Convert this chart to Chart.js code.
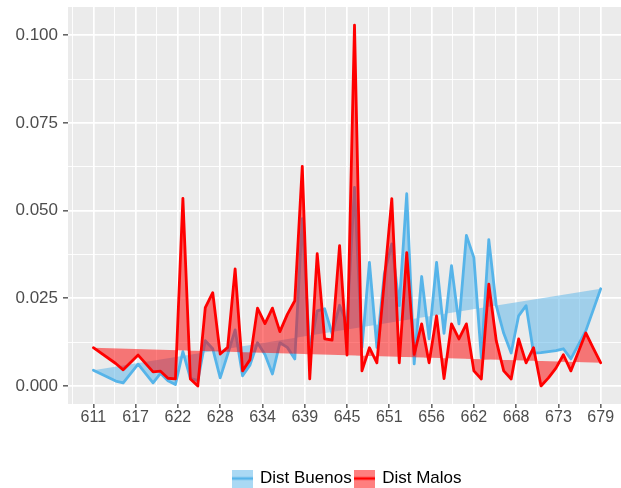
<!DOCTYPE html>
<html>
<head>
<meta charset="utf-8">
<script src="https://cdn.jsdelivr.net/npm/chart.js@4.4.1/dist/chart.umd.min.js"></script>
<style>
html,body{margin:0;padding:0;background:#ffffff;}
#wrap{width:621px;height:488px;position:relative;}
</style>
</head>
<body>
<div id="wrap"><canvas id="c" width="621" height="488"></canvas></div>
<script>
// ---- data ----
const xValues = [611,614,615,617,619,620,621,622,623,624,625,626,627,628,629,630,631,632,633,634,635,636,637,638,639,640,641,642,643,644,645,646,647,648,649,650,651,652,653,654,655,656,657,658,659,660,661,662,663,664,665,666,667,668,669,670,671,672,673,674,675,676,677,678,679];

const distBuenos = [0.0045,0.0014,0.0009,0.0062,0.0009,0.0036,0.0015,0.0004,0.0098,0.0022,0.0015,0.0129,0.0106,0.0023,0.0090,0.0160,0.0029,0.0060,0.0123,0.0090,0.0034,0.0123,0.0110,0.0077,0.0477,0.0100,0.0214,0.0220,0.0149,0.0230,0.0177,0.0566,0.0110,0.0352,0.0110,0.0320,0.0405,0.0229,0.0548,0.0063,0.0312,0.0134,0.0352,0.0150,0.0343,0.0177,0.0429,0.0366,0.0080,0.0417,0.0229,0.0150,0.0094,0.0200,0.0229,0.0094,0.0095,0.0098,0.0101,0.0106,0.0077,0.0117,0.0157,0.0217,0.0277];

const distMalos = [0.0109,0.0064,0.0046,0.0088,0.0040,0.0042,0.0022,0.0020,0.0535,0.0020,0.0000,0.0223,0.0266,0.0091,0.0110,0.0334,0.0043,0.0075,0.0222,0.0178,0.0222,0.0155,0.0204,0.0243,0.0626,0.0020,0.0377,0.0134,0.0131,0.0400,0.0088,0.1029,0.0043,0.0109,0.0066,0.0300,0.0534,0.0066,0.0380,0.0090,0.0177,0.0066,0.0200,0.0021,0.0177,0.0134,0.0177,0.0043,0.0020,0.0290,0.0129,0.0043,0.0020,0.0134,0.0066,0.0109,0.0000,0.0023,0.0051,0.0089,0.0043,0.0097,0.0151,0.0108,0.0066];

const xTickValues = [611,616.6667,622.3333,628,633.6667,639.3333,645,650.6667,656.3333,662,667.6667,673.3333,679];
const xTickLabels = ['611','617','622','628','634','639','645','651','656','662','668','673','679'];
const yTickValues = [0,0.025,0.05,0.075,0.1];
const yTickLabels = ['0.000','0.025','0.050','0.075','0.100'];

const seriesNames = ['Dist Buenos','Dist Malos'];
const lineColors = ['#56B4E9','#FF0000'];
const fillColors = ['rgba(86,180,233,0.5)','rgba(255,0,0,0.5)'];

// ---- helpers ----
function withMinor(vals, labels, min, max){
  const out = vals.map((v,i)=>({value:v, lbl:labels[i], minor:false}));
  const step = vals[1]-vals[0];
  for (let i=-1;i<vals.length;i++){
    const a = i<0 ? vals[0]-step : vals[i];
    const b = i+1<vals.length ? vals[i+1] : vals[i]+step;
    const m = (a+b)/2;
    if (m>=min && m<=max) out.push({value:m, lbl:'', minor:true});
  }
  out.sort((p,q)=>p.value-q.value);
  return out;
}

function makeKey(line, fill){
  const c = document.createElement('canvas');
  c.width = 21; c.height = 18;
  const g = c.getContext('2d');
  g.fillStyle = fill; g.fillRect(0,0,21,18);
  g.strokeStyle = line; g.lineWidth = 2.6;
  g.beginPath(); g.moveTo(0,9); g.lineTo(21,9); g.stroke();
  return c;
}

const X_MIN = 607.6, X_MAX = 681.72;
const Y_MIN = -0.005145, Y_MAX = 0.108045;

const panelBg = {
  id:'panelBg',
  beforeDraw(chart){
    const {ctx, chartArea:a} = chart;
    ctx.save(); ctx.fillStyle = '#EBEBEB';
    ctx.fillRect(a.left, a.top, a.right-a.left, a.bottom-a.top);
    ctx.restore();
  }
};
const legendShift = {
  id:'legendShift',
  afterLayout(chart){
    const lg = chart.legend;
    if (lg){ lg.top += 9; lg.bottom += 9; lg.left += 37; lg.right += 37; }
  }
};

const gridCfg = {
  color:'#FFFFFF',
  lineWidth: ctx => (ctx.tick && ctx.tick.minor) ? 0.9 : 1.7,
  tickColor: ctx => (ctx.tick && ctx.tick.minor) ? 'rgba(0,0,0,0)' : '#333333',
  tickLength: 5,
  tickWidth: 1.2,
  drawTicks: true
};

const datasets = [0,1].map(k => ({
  label: seriesNames[k],
  data: xValues.map((x,i)=>({x:x, y:(k===0?distBuenos:distMalos)[i]})),
  borderColor: lineColors[k],
  backgroundColor: fillColors[k],
  borderWidth: 2.8,
  borderJoinStyle: 'round',
  borderCapStyle: 'round',
  pointRadius: 0,
  tension: 0,
  fill: 'shape',
  order: k===0 ? 1 : 0
}));

new Chart(document.getElementById('c'), {
  type:'line',
  data:{ datasets },
  options:{
    responsive:false,
    devicePixelRatio:1,
    animation:false,
    layout:{ padding:{ top:7, right:0, bottom:0, left:0 } },
    plugins:{
      filler:{ drawTime:'beforeDatasetDraw' },
      tooltip:{ enabled:false },
      legend:{
        position:'bottom',
        align:'center',
        labels:{
          usePointStyle:true,
          pointStyleWidth:18,
          padding:4,
          color:'#000000',
          font:{ family:'"Liberation Sans", Arial, sans-serif', size:17 },
          generateLabels(chart){
            return chart.data.datasets.map((ds,i)=>({
              text: ds.label,
              pointStyle: makeKey(ds.borderColor, ds.backgroundColor),
              fillStyle: ds.backgroundColor,
              strokeStyle: ds.borderColor,
              lineWidth: 0,
              hidden: false,
              datasetIndex: i,
              fontColor:'#000000'
            }));
          }
        }
      }
    },
    scales:{
      x:{
        type:'linear',
        min:X_MIN, max:X_MAX,
        bounds:'data',
        afterBuildTicks: s => { s.ticks = withMinor(xTickValues, xTickLabels, X_MIN, X_MAX); },
        afterFit: s => { s.height = 53; s.paddingLeft = 0; s.paddingRight = 0; },
        border:{ display:false },
        grid: Object.assign({}, gridCfg, { tickLength: 4 }),
        ticks:{
          autoSkip:false, maxRotation:0, minRotation:0, padding:0,
          color:'#4D4D4D',
          font:{ family:'"Liberation Sans", Arial, sans-serif', size:16 },
          callback:(v,i,t)=>t[i].lbl
        }
      },
      y:{
        type:'linear',
        min:Y_MIN, max:Y_MAX,
        bounds:'data',
        afterBuildTicks: s => { s.ticks = withMinor(yTickValues, yTickLabels, Y_MIN, Y_MAX); },
        afterFit: s => { s.width = 68; s.paddingTop = 0; s.paddingBottom = 0; },
        border:{ display:false },
        grid: gridCfg,
        ticks:{
          autoSkip:false, padding:5,
          color:'#4D4D4D',
          font:{ family:'"Liberation Sans", Arial, sans-serif', size:17 },
          callback:(v,i,t)=>t[i].lbl
        }
      }
    }
  },
  plugins:[panelBg, legendShift]
});
</script>
</body>
</html>
